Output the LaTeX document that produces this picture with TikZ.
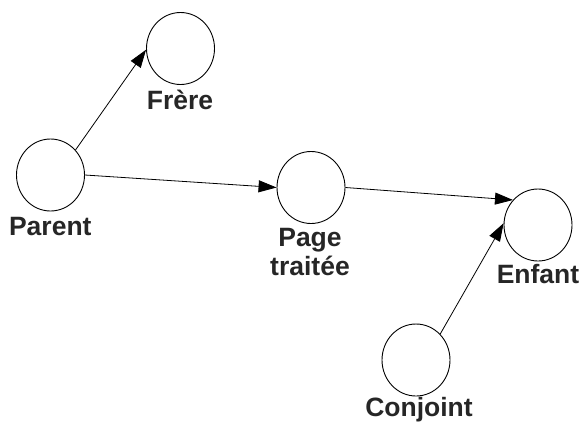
\documentclass[tikz,border=0pt]{standalone}
\usepackage{fontspec}
\setmainfont{Liberation Sans}
\usetikzlibrary{arrows.meta,shapes.geometric}
\tikzset{
  ent/.style={draw=black, line width=0.9pt, ellipse, minimum width=68pt, minimum height=72pt, inner sep=0pt},
  lbl/.style={anchor=base, font=\fontsize{26.5}{31}\selectfont\bfseries, text=black!85, inner sep=0pt},
  rel/.style={draw=black, line width=0.8pt, -{Triangle[length=18pt,width=12pt]}}
}
\begin{document}
\begin{tikzpicture}[x=1pt,y=-1pt]
\useasboundingbox (0,0) rectangle (580,424);
\node[ent] (frere) at (180.5,48.5) {};
\node[ent] (parent) at (50.5,175) {};
\node[ent] (page) at (311,187.5) {};
\node[ent] (enfant) at (538,225) {};
\node[ent] (conjoint) at (416,360) {};
\node[lbl] (lfrere) at (180,109.3) {Frère};
\node[lbl] (lparent) at (50.3,235) {Parent};
\node[lbl] (lpage1) at (310,246.7) {Page};
\node[lbl] (lpage2) at (310,275) {traitée};
\node[lbl] (lenfant) at (538,283) {Enfant};
\node[lbl] (lconjoint) at (419,416.7) {Conjoint};
\draw[rel] (parent.45) -- (frere.182);
\draw[rel] (parent.0) -- (page.180);
\draw[rel] (page.0) -- (enfant.135);
\draw[rel] (conjoint.47) -- (enfant.177);
\end{tikzpicture}
\end{document}
